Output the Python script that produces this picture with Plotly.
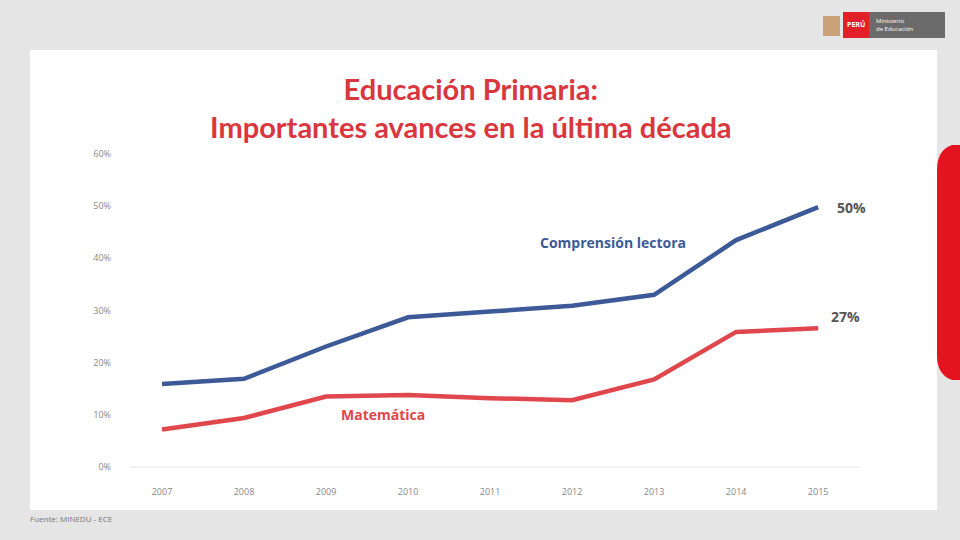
import plotly.graph_objects as go

years = [2007, 2008, 2009, 2010, 2011, 2012, 2013, 2014, 2015]
lectura = [15.9, 16.9, 23.1, 28.7, 29.8, 30.9, 33.0, 43.5, 49.8]
matematica = [7.2, 9.4, 13.5, 13.8, 13.2, 12.8, 16.8, 25.9, 26.6]
y_ticks = [0, 10, 20, 30, 40, 50, 60]
y_tick_labels = ["0%", "10%", "20%", "30%", "40%", "50%", "60%"]

BLUE = "#3d5a98"
RED = "#e0474c"
TITLE_RED = "#d9363e"

fig = go.Figure()
fig.add_trace(go.Scatter(x=years, y=lectura, mode="lines",
                         line=dict(color=BLUE, width=4.5), name="Comprensión lectora",
                         hoverinfo="x+y"))
fig.add_trace(go.Scatter(x=years, y=matematica, mode="lines",
                         line=dict(color=RED, width=4.5), name="Matemática",
                         hoverinfo="x+y"))

W, H = 960, 540
def px(x):
    return x / W
def py(y):
    return 1 - y / H

shapes = [
    # white panel
    dict(type="rect", xref="paper", yref="paper", x0=px(30), x1=px(937), y0=py(510), y1=py(50),
         fillcolor="white", line=dict(width=0), layer="below"),
    # red side tab
    dict(type="path", xref="paper", yref="paper",
         path=f"M {px(960)},{py(145)} L {px(952)},{py(145)} Q {px(937)},{py(150)} {px(937)},{py(170)} "
              f"L {px(937)},{py(355)} Q {px(937)},{py(375)} {px(952)},{py(380)} L {px(960)},{py(380)} Z",
         fillcolor="#e3141f", line=dict(width=0), layer="below"),
    # logo: shield
    dict(type="rect", xref="paper", yref="paper", x0=px(823), x1=px(840), y0=py(36), y1=py(16),
         fillcolor="#c9a27a", line=dict(width=0)),
    # logo: red square
    dict(type="rect", xref="paper", yref="paper", x0=px(843), x1=px(869), y0=py(38), y1=py(12),
         fillcolor="#e3202a", line=dict(width=0)),
    # logo: gray box
    dict(type="rect", xref="paper", yref="paper", x0=px(869), x1=px(945), y0=py(38), y1=py(12),
         fillcolor="#6b6b6b", line=dict(width=0)),
    # baseline
    dict(type="line", xref="paper", yref="y", x0=px(130), x1=px(860), y0=0, y1=0,
         line=dict(color="#e6e6e6", width=1), layer="below"),
]

annotations = [
    dict(text="<b>Educación Primaria:<br>Importantes avances en la última década</b>",
         xref="paper", yref="paper", x=px(471), y=py(107), showarrow=False,
         font=dict(family="Lato, Open Sans, sans-serif", size=29, color=TITLE_RED),
         align="center", xanchor="center", yanchor="middle"),
    dict(text="<b>Comprensión lectora</b>", x=2012.5, y=43.0, showarrow=False,
         font=dict(family="Open Sans, sans-serif", size=14, color=BLUE), xanchor="center"),
    dict(text="<b>Matemática</b>", x=2009.7, y=10.0, showarrow=False,
         font=dict(family="Open Sans, sans-serif", size=14, color=RED), xanchor="center"),
    dict(text="<b>50%</b>", x=2015, y=lectura[-1], xshift=33, yshift=0, showarrow=False,
         font=dict(family="Open Sans, sans-serif", size=14, color="#555555")),
    dict(text="<b>27%</b>", x=2015, y=matematica[-1], xshift=27, yshift=12, showarrow=False,
         font=dict(family="Open Sans, sans-serif", size=14, color="#555555")),
    dict(text="Fuente: MINEDU - ECE", xref="paper", yref="paper", x=px(28), y=py(518),
         showarrow=False, xanchor="left", yanchor="middle",
         font=dict(family="Open Sans, sans-serif", size=8, color="#777777")),
    dict(text="<b>PERÚ</b>", xref="paper", yref="paper", x=px(856), y=py(25), showarrow=False,
         xanchor="center", yanchor="middle",
         font=dict(family="Open Sans, sans-serif", size=7, color="white")),
    dict(text="Ministerio<br>de Educación", xref="paper", yref="paper", x=px(874), y=py(25),
         showarrow=False, xanchor="left", yanchor="middle", align="left",
         font=dict(family="Open Sans, sans-serif", size=6, color="white")),
]

fig.update_layout(
    width=W, height=H,
    margin=dict(l=0, r=0, t=0, b=0),
    paper_bgcolor="#e5e5e5",
    plot_bgcolor="rgba(0,0,0,0)",
    showlegend=False,
    shapes=shapes,
    annotations=annotations,
    xaxis=dict(domain=[px(130), px(860)], range=[2006.61, 2015.51],
               tickmode="array", tickvals=years, ticktext=[str(y) for y in years],
               showgrid=False, zeroline=False, showline=False, ticks="",
               ticklabelstandoff=5,
               tickfont=dict(family="Open Sans, sans-serif", size=9, color="#888888")),
    yaxis=dict(domain=[py(480), py(140)], range=[-2.49, 62.68],
               tickmode="array", tickvals=y_ticks, ticktext=y_tick_labels,
               showgrid=False, zeroline=False, showline=False, ticks="",
               ticklabelstandoff=18,
               tickfont=dict(family="Open Sans, sans-serif", size=9, color="#888888")),
)

fig.write_html("out.html")
